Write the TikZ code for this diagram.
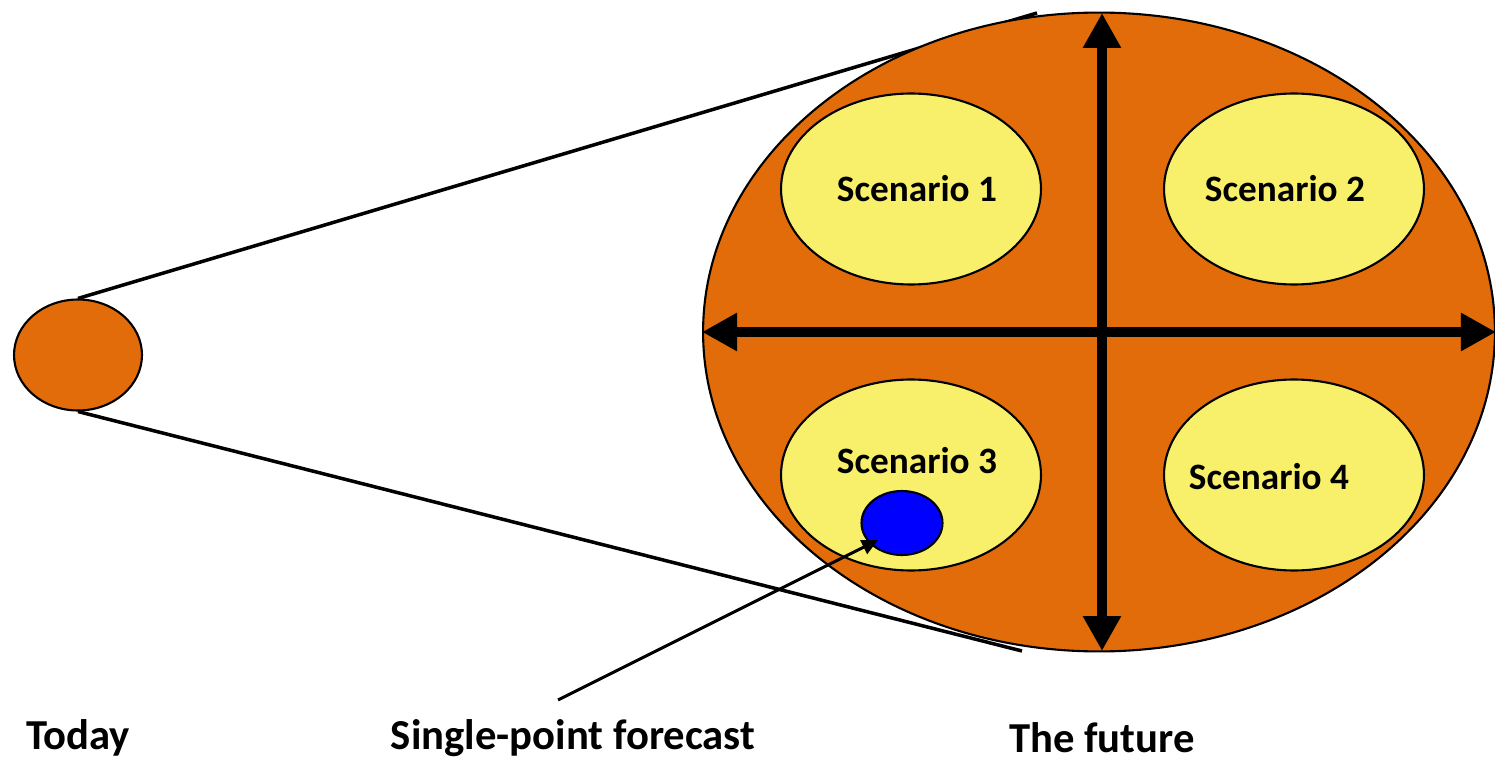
\documentclass[tikz,border=0pt]{standalone}
\usepackage{fontspec}
\setmainfont{Carlito}
\usetikzlibrary{shapes.geometric,arrows.meta}
\definecolor{futorange}{HTML}{E36C0A}
\definecolor{scyellow}{HTML}{F8F06A}
\definecolor{fcblue}{HTML}{0000FF}
\tikzset{
  blob/.style={ellipse, draw=black, line width=1.2pt, inner sep=0pt},
  scen/.style={blob, fill=scyellow, minimum width=5.2cm, minimum height=3.82cm},
  sctext/.style={font=\bfseries\fontsize{21.2}{25}\selectfont, inner sep=0pt},
  bottomtext/.style={font=\bfseries\fontsize{24.3}{29}\selectfont, inner sep=0pt},
  tangent/.style={line width=2pt},
  axis/.style={line width=5.5pt, {Triangle[length=0.7cm,width=0.72cm]}-{Triangle[length=0.7cm,width=0.72cm]}},
  pointer/.style={line width=1.7pt, -{Triangle[length=0.32cm,width=0.3cm]}}
}
\begin{document}
\begin{tikzpicture}[x=0.02cm,y=-0.02cm]
\useasboundingbox (0,0) rectangle (1495,760);
% today
\node[blob, fill=futorange, minimum width=2.56cm, minimum height=2.22cm] (today) at (78,355) {};
\coordinate (tu) at (1037,13);
\coordinate (tl) at (1022,651);
\draw[tangent] (today.north) -- (tu);
\draw[tangent] (today.south) -- (tl);
% future
\node[blob, fill=futorange, minimum width=15.84cm, minimum height=12.78cm] (future) at (1099,332) {};
\node[scen] (s1) at (911,189) {};
\node[scen] (s2) at (1294,189) {};
\node[scen] (s3) at (911,475) {};
\node[scen] (s4) at (1294,475) {};
\node[sctext] (t1) at (917,189) {Scenario 1};
\node[sctext] (t2) at (1285,189) {Scenario 2};
\node[sctext] (t3) at (917,461) {Scenario 3};
\node[sctext] (t4) at (1269,477) {Scenario 4};
\node[blob, fill=fcblue, minimum width=1.62cm, minimum height=1.28cm] (spf) at (902,523) {};
\coordinate (vtop) at (1102,13);
\coordinate (vbot) at (1102,651);
\draw[axis] (vtop) -- (vbot);
\draw[axis] (future.west) -- (future.east);
% pointer
\coordinate (pstart) at (558,700);
\coordinate (ptip) at (878,540);
\draw[pointer] (pstart) -- (ptip);
% labels
\node[bottomtext] (ltoday) at (78,738) {Today};
\node[bottomtext] (lspf) at (573,738) {Single-point forecast};
\node[bottomtext] (lfut) at (1102,738) {The future};
\end{tikzpicture}
\end{document}
